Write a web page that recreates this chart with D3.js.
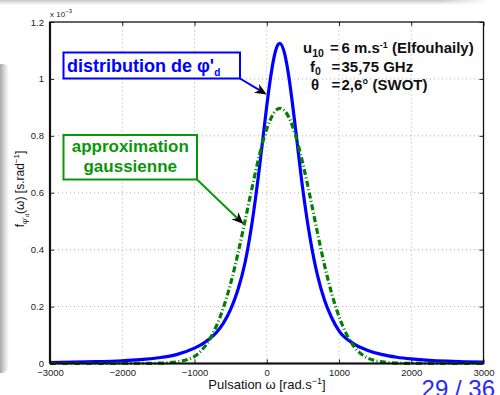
<!DOCTYPE html>
<html>
<head>
<meta charset="utf-8">
<script src="https://cdn.jsdelivr.net/npm/d3@7"></script>
<style>
  html, body { margin: 0; padding: 0; background: #fff; }
  svg { display: block; }
  text { font-family: "Liberation Sans", Arial, sans-serif; }
</style>
</head>
<body>
<svg id="chart" width="500" height="395"></svg>
<script>
// Angular frequency samples (rad/s) and densities (x 1e-3 s/rad)
const omegaBlue = [-3000, -2500, -2000, -1750, -1500, -1250, -1000, -900, -800, -700, -600, -500, -400, -300, -200, -100, 0, 50, 100, 150, 180, 250, 300, 350, 400, 500, 600, 700, 800, 900, 1000, 1200, 1400, 1600, 1800, 2000, 2250, 2500, 2750, 3000];
const densityBlue = [0.0032, 0.0059, 0.0096, 0.0136, 0.0201, 0.0313, 0.0540, 0.0670, 0.0850, 0.108, 0.142, 0.190, 0.258, 0.355, 0.500, 0.690, 0.905, 1.000, 1.075, 1.118, 1.125, 1.086, 1.017, 0.925, 0.821, 0.610, 0.440, 0.312, 0.222, 0.160, 0.115, 0.070, 0.046, 0.031, 0.022, 0.016, 0.011, 0.008, 0.006, 0.0045];

const omegaGreen = [-3000, -2000, -1500, -1250, -1000, -900, -800, -700, -600, -500, -400, -300, -200, -100, 0, 100, 185, 300, 400, 500, 600, 700, 800, 900, 1000, 1100, 1200, 1300, 1400, 1500, 1700, 2000, 3000];
const densityGreen = [0, 0, 0.001, 0.0056, 0.025, 0.047, 0.080, 0.130, 0.196, 0.281, 0.385, 0.502, 0.622, 0.734, 0.824, 0.881, 0.897, 0.868, 0.800, 0.702, 0.586, 0.462, 0.345, 0.245, 0.165, 0.105, 0.062, 0.035, 0.019, 0.010, 0.003, 0.0003, 0];

const xTicks = [-3000, -2000, -1000, 0, 1000, 2000, 3000];
const yTicks = [0, 0.2, 0.4, 0.6, 0.8, 1, 1.2];
const yTickLabels = ["0", "0.2", "0.4", "0.6", "0.8", "1", "1.2"];

const svg = d3.select("#chart");

// Slide decorations: soft shadow strip at the top and on the left
const defs = svg.append("defs");
const gTop = defs.append("linearGradient").attr("id", "shTop").attr("x1", 0).attr("y1", 0).attr("x2", 0).attr("y2", 1);
gTop.append("stop").attr("offset", 0).attr("stop-color", "#c8c8c8");
gTop.append("stop").attr("offset", 1).attr("stop-color", "#ffffff");
const gTopX = defs.append("linearGradient").attr("id", "shTopX").attr("x1", 0).attr("y1", 0).attr("x2", 1).attr("y2", 0);
gTopX.append("stop").attr("offset", 0.9).attr("stop-color", "#fff").attr("stop-opacity", 0);
gTopX.append("stop").attr("offset", 1).attr("stop-color", "#fff").attr("stop-opacity", 1);
const gLeft = defs.append("linearGradient").attr("id", "shLeft").attr("x1", 0).attr("y1", 0).attr("x2", 1).attr("y2", 0);
gLeft.append("stop").attr("offset", 0).attr("stop-color", "#a8a8a8");
gLeft.append("stop").attr("offset", 0.5).attr("stop-color", "#d8d8d8");
gLeft.append("stop").attr("offset", 1).attr("stop-color", "#ffffff");

svg.append("rect").attr("x", 0).attr("y", 0).attr("width", 490).attr("height", 5).attr("fill", "url(#shTop)");
svg.append("rect").attr("x", 0).attr("y", 0).attr("width", 490).attr("height", 5).attr("fill", "url(#shTopX)");
svg.append("path")
  .attr("d", "M0,64 L4,64 Q9,66 9,72 L9,364 Q9,371 3,373 L0,373 Z")
  .attr("fill", "url(#shLeft)");

// Plot frame
const x0 = 50, x1 = 483.5, y0 = 363.5, y1 = 22;
const x = d3.scaleLinear().domain([-3000, 3000]).range([x0, x1]);
const y = d3.scaleLinear().domain([0, 1.2]).range([y0, y1]);

// Dotted grid
const grid = svg.append("g");
grid.selectAll(".gx").data(xTicks.slice(1, -1)).join("line")
  .attr("x1", d => x(d)).attr("x2", d => x(d)).attr("y1", y0).attr("y2", y1)
  .attr("stroke", "#9a9a9a").attr("stroke-width", 0.8).attr("stroke-dasharray", "1,3");
grid.selectAll(".gy").data(yTicks.slice(1, -1)).join("line")
  .attr("y1", d => y(d)).attr("y2", d => y(d)).attr("x1", x0).attr("x2", x1)
  .attr("stroke", "#9a9a9a").attr("stroke-width", 0.8).attr("stroke-dasharray", "1,3");

// Curves
const lineBlue = d3.line().x((d, i) => x(omegaBlue[i])).y(d => y(d)).curve(d3.curveMonotoneX);
const lineGreen = d3.line().x((d, i) => x(omegaGreen[i])).y(d => y(d)).curve(d3.curveMonotoneX);

svg.append("path").datum(densityBlue).attr("d", lineBlue)
  .attr("fill", "none").attr("stroke", "#0000ff").attr("stroke-width", 3.2).attr("stroke-linejoin", "round");
svg.append("path").datum(densityGreen).attr("d", lineGreen)
  .attr("fill", "none").attr("stroke", "#008000").attr("stroke-width", 3.2)
  .attr("stroke-dasharray", "6,2.5,1,2.5");

// Axes with inward ticks on all four sides
const axB = d3.axisBottom(x).tickValues(xTicks).tickSizeInner(-4).tickSizeOuter(0)
  .tickFormat(d => d < 0 ? "\u2212" + Math.abs(d) : String(d)).tickPadding(6);
const axL = d3.axisLeft(y).tickValues(yTicks).tickSizeInner(-4).tickSizeOuter(0)
  .tickFormat((d, i) => yTickLabels[i]).tickPadding(6);
const axT = d3.axisTop(x).tickValues(xTicks).tickSizeInner(-4).tickSizeOuter(0).tickFormat("");
const axR = d3.axisRight(y).tickValues(yTicks).tickSizeInner(-4).tickSizeOuter(0).tickFormat("");

function styleAxis(g) {
  g.select(".domain").remove();
  g.selectAll(".tick line").attr("stroke", "#222").attr("stroke-width", 1);
  g.selectAll(".tick text").attr("fill", "#222").style("font-size", "9.5px")
    .style("font-family", "'Liberation Sans', Arial, sans-serif");
}
svg.append("g").attr("transform", `translate(0,${y0})`).call(axB).call(styleAxis);
svg.append("g").attr("transform", `translate(${x0},0)`).call(axL).call(styleAxis);
svg.append("g").attr("transform", `translate(0,${y1})`).call(axT).call(styleAxis);
svg.append("g").attr("transform", `translate(${x1},0)`).call(axR).call(styleAxis);

svg.append("rect").attr("x", x0).attr("y", y1).attr("width", x1 - x0).attr("height", y0 - y1)
  .attr("fill", "none").attr("stroke", "#111").attr("stroke-width", 1.3);
svg.append("line").attr("x1", x0).attr("x2", x0).attr("y1", y1).attr("y2", y0)
  .attr("stroke", "#111").attr("stroke-width", 2.2);
svg.append("line").attr("x1", x0).attr("x2", x1).attr("y1", y0).attr("y2", y0)
  .attr("stroke", "#111").attr("stroke-width", 2.2);

// Exponent marker
const expo = svg.append("text").attr("x", x0).attr("y", 17).attr("fill", "#222").style("font-size", "8px");
expo.append("tspan").text("x 10");
expo.append("tspan").attr("dy", -4).style("font-size", "6px").text("\u22123");

// Axis titles
const xl = svg.append("text").attr("x", 267).attr("y", 389).attr("text-anchor", "middle")
  .attr("fill", "#111").style("font-size", "13px");
xl.append("tspan").text("Pulsation \u03c9 [rad.s");
xl.append("tspan").attr("dy", -5).style("font-size", "9px").text("\u22121");
xl.append("tspan").attr("dy", 5).text("]");

const yl = svg.append("text").attr("transform", "translate(24,189) rotate(-90)")
  .attr("text-anchor", "middle").attr("fill", "#111").style("font-size", "12px");
yl.append("tspan").text("f");
yl.append("tspan").attr("dy", 3).style("font-size", "8px").text("\u03c6'");
yl.append("tspan").attr("dy", 2).style("font-size", "6px").text("d");
yl.append("tspan").attr("dy", -5).text("(\u03c9)  [s.rad");
yl.append("tspan").attr("dy", -5).style("font-size", "8px").text("\u22121");
yl.append("tspan").attr("dy", 5).text("]");

// Parameter block: symbol, aligned "=" and value on each line
const params = svg.append("g").attr("fill", "#111").style("font-weight", "bold").style("font-size", "15px");
const eqX = 330, valX = 341.5;
const rows = [53.3, 71.7, 90];

const s1 = params.append("text").attr("x", 303).attr("y", rows[0]);
s1.append("tspan").text("u");
s1.append("tspan").attr("dy", 3.5).style("font-size", "10.5px").text("10");
params.append("text").attr("x", eqX).attr("y", rows[0]).text("=");
const v1 = params.append("text").attr("x", valX).attr("y", rows[0]);
v1.append("tspan").text("6 m.s");
v1.append("tspan").attr("dy", -5.5).style("font-size", "9px").text("-1");
v1.append("tspan").attr("dy", 5.5).text(" (Elfouhaily)");

const s2 = params.append("text").attr("x", 310).attr("y", rows[1]);
s2.append("tspan").text("f");
s2.append("tspan").attr("dy", 3.5).style("font-size", "10.5px").text("0");
params.append("text").attr("x", eqX + 1.5).attr("y", rows[1]).text("=");
params.append("text").attr("x", valX).attr("y", rows[1]).text("35,75 GHz");

params.append("text").attr("x", 311).attr("y", rows[2]).text("\u03b8");
params.append("text").attr("x", eqX + 1.5).attr("y", rows[2]).text("=");
params.append("text").attr("x", valX).attr("y", rows[2]).text("2,6\u00b0 (SWOT)");

// Arrow helper: connector line plus black arrowhead at the tip
function arrow(fromX, fromY, tipX, tipY, color) {
  const ang = Math.atan2(tipY - fromY, tipX - fromX);
  const L = 12, W = 5, back = 8.5;
  const bx = tipX - back * Math.cos(ang), by = tipY - back * Math.sin(ang);
  svg.append("line").attr("x1", fromX).attr("y1", fromY).attr("x2", bx).attr("y2", by)
    .attr("stroke", color).attr("stroke-width", 2);
  const pt = (l, w) => [tipX - l * Math.cos(ang) - w * Math.sin(ang), tipY - l * Math.sin(ang) + w * Math.cos(ang)];
  const a = pt(L, W), b = pt(back, 0), c = pt(L, -W);
  svg.append("path").attr("d", `M${tipX},${tipY} L${a[0]},${a[1]} L${b[0]},${b[1]} L${c[0]},${c[1]} Z`)
    .attr("fill", "#000");
}

// Label boxes
const blueBox = { x: 63.5, y: 52.5, w: 176.5, h: 26 };
svg.append("rect").attr("x", blueBox.x).attr("y", blueBox.y).attr("width", blueBox.w).attr("height", blueBox.h)
  .attr("fill", "#fff").attr("stroke", "#0000ff").attr("stroke-width", 2);
const bt = svg.append("text").attr("x", 67).attr("y", 71.5).attr("fill", "#0000ff")
  .style("font-weight", "bold").style("font-size", "18px");
bt.append("tspan").text("distribution de \u03c6'");
bt.append("tspan").attr("dy", 4).style("font-size", "10px").text("d");
arrow(blueBox.x + blueBox.w, blueBox.y + blueBox.h, x(0), y(0.945), "#0000ff");

const greenBox = { x: 63.5, y: 135, w: 133.5, h: 44.5 };
svg.append("rect").attr("x", greenBox.x).attr("y", greenBox.y).attr("width", greenBox.w).attr("height", greenBox.h)
  .attr("fill", "#fff").attr("stroke", "#0a960a").attr("stroke-width", 2);
const gt = svg.append("g").attr("fill", "#0a960a").style("font-weight", "bold").style("font-size", "17px")
  .attr("text-anchor", "middle");
gt.append("text").attr("x", greenBox.x + greenBox.w / 2).attr("y", 151.5).text("approximation");
gt.append("text").attr("x", greenBox.x + greenBox.w / 2).attr("y", 172).text("gaussienne");
arrow(greenBox.x + greenBox.w, greenBox.y + greenBox.h, x(-322), y(0.49), "#0a960a");

// Slide page number
svg.append("text").attr("x", 495).attr("y", 397).attr("text-anchor", "end")
  .attr("fill", "#2a2aff").style("font-size", "24px").text("29 / 36");
</script>
</body>
</html>
